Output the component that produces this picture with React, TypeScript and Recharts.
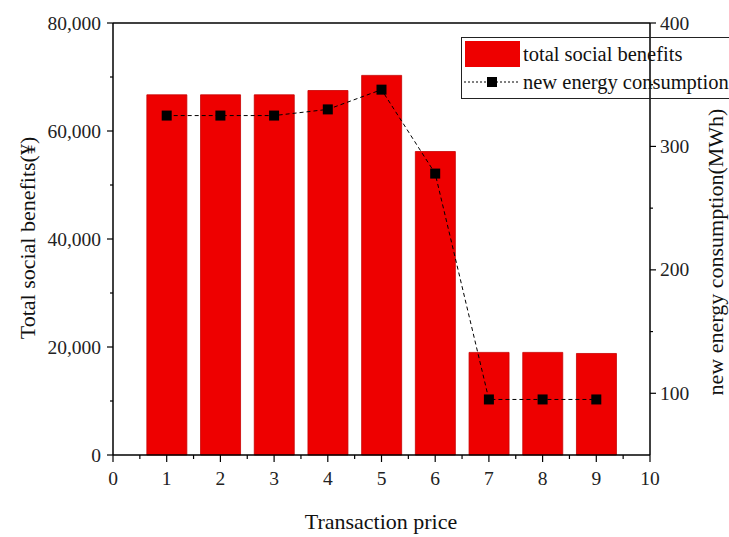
import React from 'react';
import {
  ComposedChart,
  Bar,
  Line,
  XAxis,
  YAxis,
  Legend,
  ReferenceLine,
  Label
} from 'recharts';

const prices = [1, 2, 3, 4, 5, 6, 7, 8, 9];
const socialBenefits = [66700, 66700, 66700, 67500, 70300, 56200, 19000, 19000, 18800];
const energyConsumption = [325, 325, 325, 330, 346, 278, 95, 95, 95];

const xTicks = [0, 0.5, 1, 1.5, 2, 2.5, 3, 3.5, 4, 4.5, 5, 5.5, 6, 6.5, 7, 7.5, 8, 8.5, 9, 9.5, 10];
const leftTicks = [0, 10000, 20000, 30000, 40000, 50000, 60000, 70000, 80000];
const rightTicks = [100, 150, 200, 250, 300, 350, 400];

const seriesNames = ['total social benefits', 'new energy consumption'];

const data = prices.map((p, i) => ({
  price: p,
  benefits: socialBenefits[i],
  energy: energyConsumption[i]
}));

const FONT = '"Liberation Serif", "Times New Roman", serif';
const RED = '#EE0000';

const LeftTick = ({ x, y, payload }: any) => {
  const v = payload.value;
  const major = v % 20000 === 0;
  return (
    <g>
      <line x1={x} x2={x - (major ? 6 : 3)} y1={y} y2={y} stroke="#000" strokeWidth={1.2} />
      {major && (
        <text x={x - 12} y={y} dy={6.5} textAnchor="end" fontFamily={FONT} fontSize={19.5} fill="#222">
          {v.toLocaleString('en-US')}
        </text>
      )}
    </g>
  );
};

const RightTick = ({ x, y, payload }: any) => {
  const v = payload.value;
  const major = v % 100 === 0;
  return (
    <g>
      <line x1={x} x2={x + (major ? 6 : 3)} y1={y} y2={y} stroke="#000" strokeWidth={1.2} />
      {major && (
        <text x={x + 10} y={y} dy={6.5} textAnchor="start" fontFamily={FONT} fontSize={19.5} fill="#222">
          {v}
        </text>
      )}
    </g>
  );
};

const BottomTick = ({ x, y, payload }: any) => {
  const v = payload.value;
  const major = Number.isInteger(v);
  return (
    <g>
      <line x1={x} x2={x} y1={y} y2={y + (major ? 7 : 4)} stroke="#000" strokeWidth={1.2} />
      {major && (
        <text x={x} y={y + 30} textAnchor="middle" fontFamily={FONT} fontSize={19.5} fill="#222">
          {v}
        </text>
      )}
    </g>
  );
};

const SquareDot = ({ cx, cy }: any) => {
  if (cx == null || cy == null) return null;
  return <rect x={cx - 5} y={cy - 5} width={10} height={10} fill="#000" />;
};

const CustomLegend = () => (
  <div
    style={{
      position: 'absolute',
      left: 461,
      top: 37,
      width: 290,
      height: 62,
      border: '1px solid #222',
      boxSizing: 'border-box',
      fontFamily: FONT,
      fontSize: 20.5,
      color: '#111',
      whiteSpace: 'nowrap'
    }}
  >
    <div style={{ position: 'absolute', left: 3, top: 3, width: 55, height: 26, background: RED }} />
    <div style={{ position: 'absolute', left: 61, top: 4, lineHeight: '24px' }}>{seriesNames[0]}</div>
    <svg style={{ position: 'absolute', left: 1, top: 36 }} width={58} height={16}>
      <line x1={1} x2={57} y1={8} y2={8} stroke="#000" strokeDasharray="2 2" strokeWidth={1} />
      <rect x={24} y={3} width={10} height={10} fill="#000" />
    </svg>
    <div style={{ position: 'absolute', left: 61, top: 32, lineHeight: '24px' }}>{seriesNames[1]}</div>
  </div>
);

const AxisTitle = (x: number, y: number, text: string, rotate: boolean) => (props: any) => {
  const vb = props.viewBox || {};
  const tx = (vb.x || 0) + x;
  const ty = y;
  return (
    <text
      x={tx}
      y={ty}
      textAnchor="middle"
      dominantBaseline="central"
      fontFamily={FONT}
      fontSize={22}
      fill="#111"
      transform={rotate ? `rotate(-90 ${tx} ${ty})` : undefined}
    >
      {text}
    </text>
  );
};

export default function App() {
  return (
    <div style={{ position: 'absolute', left: 0, top: 0, width: 729, height: 537, overflow: 'hidden', background: '#fff' }}>
      <ComposedChart
        width={729}
        height={537}
        data={data}
        margin={{ top: 23, right: 0, left: 0, bottom: 0 }}
      >
        <XAxis
          dataKey="price"
          type="number"
          domain={[0, 10]}
          ticks={xTicks}
          interval={0}
          height={82}
          tickSize={0}
          tickMargin={0}
          tickLine={false}
          tick={<BottomTick />}
          axisLine={{ stroke: '#000', strokeWidth: 1.5 }}
        >
          <Label content={() => (
            <text x={381} y={521} textAnchor="middle" dominantBaseline="central" fontFamily={FONT} fontSize={22} fill="#111">
              Transaction price
            </text>
          )} />
        </XAxis>
        <YAxis
          yAxisId="left"
          domain={[0, 80000]}
          ticks={leftTicks}
          interval={0}
          width={113}
          tickSize={0}
          tickMargin={0}
          tickLine={false}
          tick={<LeftTick />}
          axisLine={{ stroke: '#000', strokeWidth: 1.5 }}
        >
          <Label content={AxisTitle(27, 238, 'Total social benefits(¥)', true)} />
        </YAxis>
        <YAxis
          yAxisId="right"
          orientation="right"
          domain={[50, 400]}
          ticks={rightTicks}
          interval={0}
          width={79}
          tickSize={0}
          tickMargin={0}
          tickLine={false}
          tick={<RightTick />}
          axisLine={{ stroke: '#000', strokeWidth: 1.5 }}
        >
          <Label content={AxisTitle(65, 252, 'new energy consumption(MWh)', true)} />
        </YAxis>
        <ReferenceLine yAxisId="left" y={80000} stroke="#000" strokeWidth={1.5} />
        <Legend content={<CustomLegend />} wrapperStyle={{ position: 'absolute', left: 0, top: 0, width: 0, height: 0 }} />
        <Bar
          yAxisId="left"
          dataKey="benefits"
          name={seriesNames[0]}
          fill={RED}
          stroke="#c80000"
          strokeWidth={0.8}
          barSize={40}
          isAnimationActive={false}
        />
        <Line
          yAxisId="right"
          type="linear"
          dataKey="energy"
          name={seriesNames[1]}
          stroke="#000"
          strokeWidth={1}
          strokeDasharray="4 3"
          dot={<SquareDot />}
          activeDot={false}
          isAnimationActive={false}
        />
      </ComposedChart>
    </div>
  );
}
